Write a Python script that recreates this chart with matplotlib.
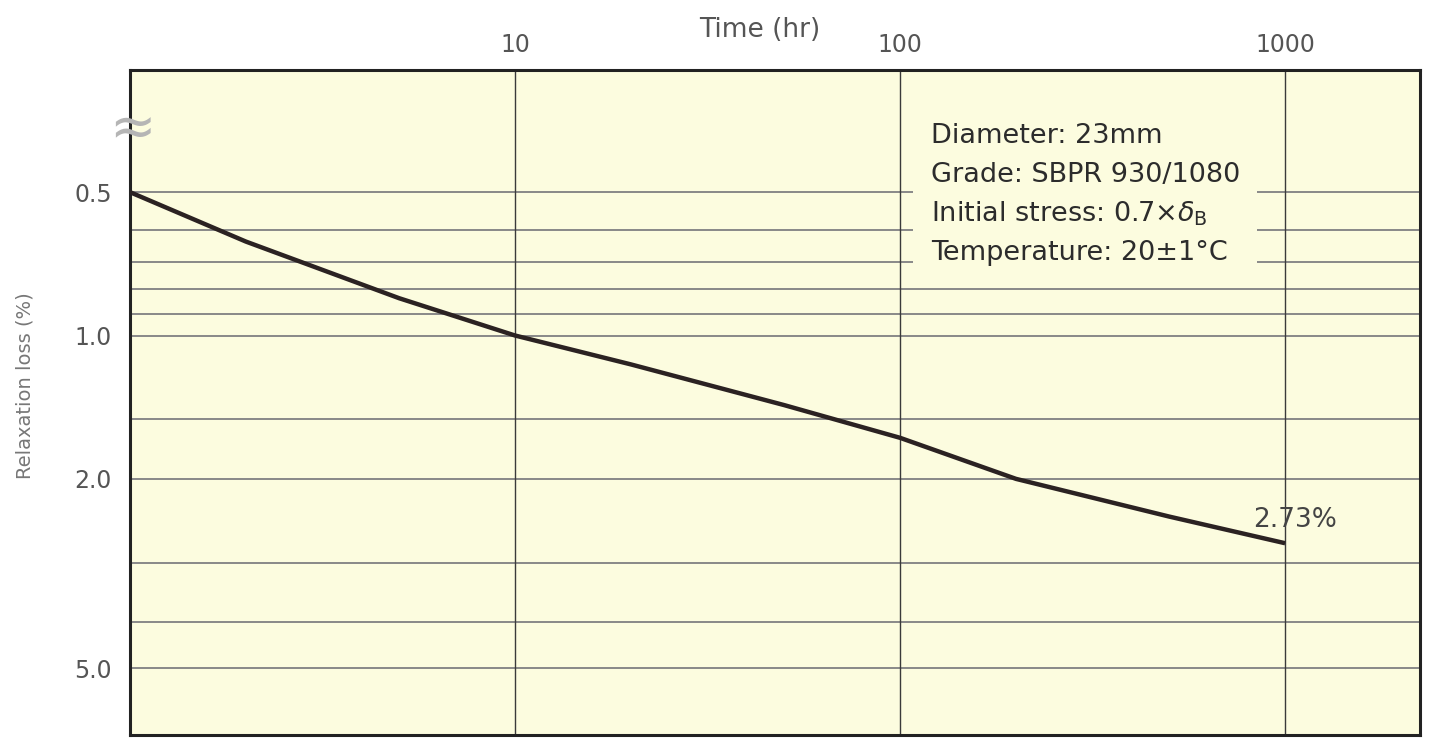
import numpy as np
import matplotlib.pyplot as plt
from matplotlib.patches import Rectangle

plt.rcParams['font.family'] = ['DejaVu Sans']
plt.rcParams['mathtext.fontset'] = 'dejavusans'

# relaxation test data
hours = [1, 2, 5, 10, 20, 50, 100, 200, 500, 1000]
loss = [0.5, 0.635, 0.835, 1.0, 1.15, 1.40, 1.64, 2.0, 2.40, 2.73]

xticks = [10, 100, 1000]
yticks = [0.5, 1.0, 2.0, 5.0]
ytick_labels = ['0.5', '1.0', '2.0', '5.0']
hlines = [0.5, 0.6, 0.7, 0.8, 0.9, 1.0, 1.5, 2.0, 3.0, 4.0, 5.0]

info = ['Diameter: 23mm', 'Grade: SBPR 930/1080',
        'Initial stress: 0.7×$\\delta_{\\mathrm{B}}$', 'Temperature: 20±1°C']

bg = '#fcfcdf'

fig = plt.figure(figsize=(14.32, 7.38), dpi=100)
ax = fig.add_axes([130/1432, 3/738, 1290/1432, 665/738])
ax.set_facecolor(bg)
ax.set_xscale('log')
ax.set_yscale('log')
ax.set_xlim(1, 2240)
ax.set_ylim(6.9, 0.277)

# grid
for v in hlines:
    ax.axhline(v, color='#888888', lw=1.4, zorder=1)
for v in xticks:
    ax.axvline(v, color='#3a3a3a', lw=1.0, zorder=1)

# info block, with a patch hiding the grid behind it
ax.add_patch(Rectangle((0.607, 0.681), 0.267, 0.266, transform=ax.transAxes,
                       facecolor=bg, edgecolor='none', zorder=2))
for i, line in enumerate(info):
    ax.text(0.621, 0.890 - i * 0.0587, line, transform=ax.transAxes, va='baseline',
            ha='left', fontsize=19.5, color='#2c2c2c', zorder=3)

# curve
ax.plot(hours, loss, color='#2b2222', lw=3.2, zorder=4, solid_capstyle='butt')
ax.annotate('2.73%', xy=(hours[-1], loss[-1]), xytext=(7, 17), textcoords='offset points',
            ha='center', va='center', fontsize=19, color='#444444')

# axis labels & ticks
ax.xaxis.tick_top()
ax.set_xticks(xticks)
ax.set_xticklabels([str(v) for v in xticks])
ax.xaxis.set_minor_locator(plt.NullLocator())
ax.set_yticks(yticks)
ax.set_yticklabels(ytick_labels)
ax.yaxis.set_minor_locator(plt.NullLocator())
ax.tick_params(length=0, labelsize=17, labelcolor='#555555')
ax.tick_params(axis='y', pad=13)
ax.tick_params(axis='x', pad=9)

fig.text(760/1432, 1 - 30/738, 'Time (hr)', ha='center', va='center',
         fontsize=19, color='#555555')
fig.text(0.0175, 0.478, 'Relaxation loss (%)', rotation=90, ha='center', va='center',
         fontsize=14, color='#777777')

# axis break mark
ax.text(0.0015, 0.37, '≈', transform=ax.get_yaxis_transform(), ha='center', va='center',
        fontsize=40, color='#b5b5b5', clip_on=False, zorder=5)

for s in ax.spines.values():
    s.set_linewidth(2.2)
    s.set_color('#222222')

fig.savefig('out.png', dpi=100, facecolor='white')
